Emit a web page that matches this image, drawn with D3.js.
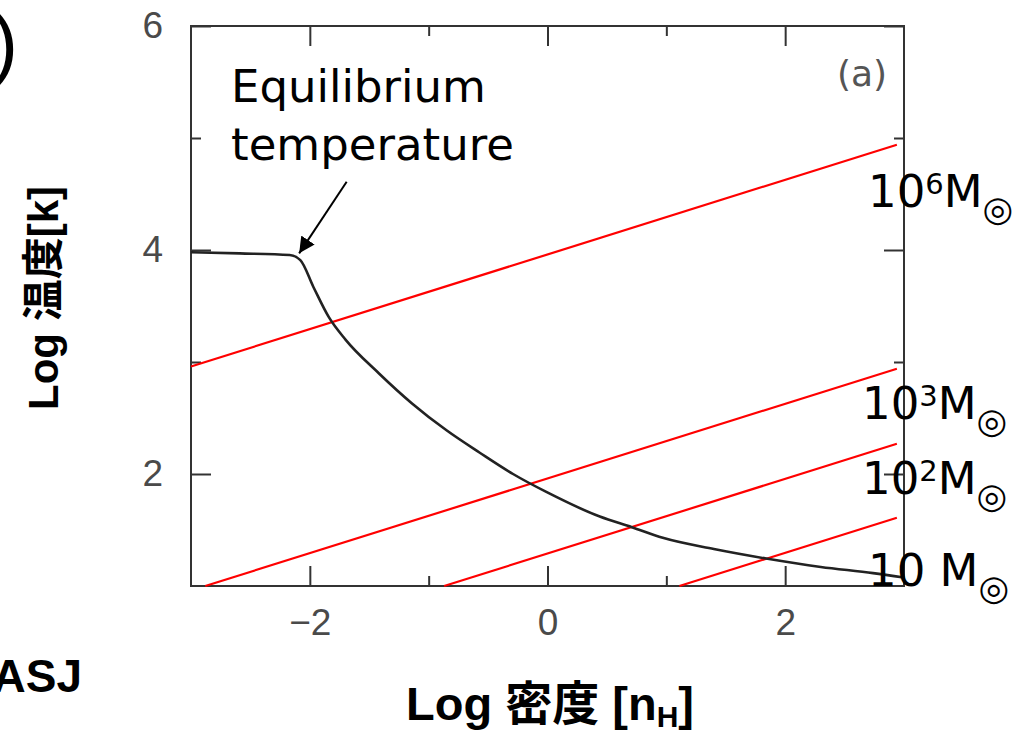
<!DOCTYPE html>
<html>
<head>
<meta charset="utf-8">
<script src="https://d3js.org/d3.v7.min.js"></script>
<style>
  body { margin: 0; background: #fff; }
  svg { display: block; overflow: visible; }
</style>
</head>
<body>
<div id="chart"></div>
<script>
  // equilibrium temperature curve (log n_H, log T)
  var eqDensity = [-3.0, -2.59, -2.17, -2.08, -1.97, -1.84, -1.70, -1.42, -1.14, -0.85, -0.57, -0.29, -0.01, 0.44, 0.71, 0.97, 1.40, 1.84, 2.30, 2.74, 3.0];
  var eqTemp    = [3.98, 3.97, 3.955, 3.91, 3.67, 3.40, 3.20, 2.90, 2.63, 2.39, 2.19, 2.00, 1.84, 1.62, 1.525, 1.43, 1.33, 1.245, 1.17, 1.115, 1.075];

  // Jeans mass lines (red), start and end points; label is 10^exp M
  var massExp    = ["6", "3", "2", ""];
  var massStartX = [-3.0, -2.88, -0.87, 1.11];
  var massStartY = [2.96, 1.0, 1.0, 1.0];
  var massEndX   = [2.94, 2.94, 2.94, 2.94];
  var massEndY   = [4.94, 2.94, 2.27, 1.61];

  // ticks
  var xMajor = [-2, 0, 2];
  var xMinor = [-1, 1];
  var yMajor = [2, 4, 6];
  var yMinor = [3, 5];

  var width = 1012, height = 730;
  var pLeft = 191, pRight = 904, pTop = 26, pBottom = 586;

  var svg = d3.select("#chart").append("svg")
    .attr("width", width)
    .attr("height", height);

  var x = d3.scaleLinear().domain([-3, 3]).range([pLeft, pRight]);
  var y = d3.scaleLinear().domain([1, 6]).range([pBottom, pTop]);

  var tickFont = "'Liberation Sans', Arial, sans-serif";
  var fmt = d3.format("d");

  function styleAxis(g) {
    g.select(".domain").remove();
    g.selectAll("line").attr("stroke", "#333").attr("stroke-width", 2);
    g.selectAll("text").attr("fill", "#4a4a4a").attr("font-size", 37)
      .attr("font-family", tickFont);
  }

  // bottom
  svg.append("g").attr("transform", "translate(0," + pBottom + ")")
    .call(d3.axisBottom(x).tickValues(xMajor).tickFormat(fmt).tickSizeInner(-20).tickSizeOuter(0).tickPadding(23))
    .call(styleAxis);
  svg.append("g").attr("transform", "translate(0," + pBottom + ")")
    .call(d3.axisBottom(x).tickValues(xMinor).tickFormat("").tickSizeInner(-10).tickSizeOuter(0))
    .call(styleAxis);
  // top
  svg.append("g").attr("transform", "translate(0," + pTop + ")")
    .call(d3.axisTop(x).tickValues(xMajor).tickFormat("").tickSizeInner(-20).tickSizeOuter(0))
    .call(styleAxis);
  svg.append("g").attr("transform", "translate(0," + pTop + ")")
    .call(d3.axisTop(x).tickValues(xMinor).tickFormat("").tickSizeInner(-10).tickSizeOuter(0))
    .call(styleAxis);
  // left
  svg.append("g").attr("transform", "translate(" + pLeft + ",0)")
    .call(d3.axisLeft(y).tickValues(yMajor).tickFormat(fmt).tickSizeInner(-20).tickSizeOuter(0).tickPadding(28))
    .call(styleAxis);
  svg.append("g").attr("transform", "translate(" + pLeft + ",0)")
    .call(d3.axisLeft(y).tickValues(yMinor).tickFormat("").tickSizeInner(-10).tickSizeOuter(0))
    .call(styleAxis);
  // right
  svg.append("g").attr("transform", "translate(" + pRight + ",0)")
    .call(d3.axisRight(y).tickValues(yMajor).tickFormat("").tickSizeInner(-20).tickSizeOuter(0))
    .call(styleAxis);
  svg.append("g").attr("transform", "translate(" + pRight + ",0)")
    .call(d3.axisRight(y).tickValues(yMinor).tickFormat("").tickSizeInner(-10).tickSizeOuter(0))
    .call(styleAxis);

  // frame
  svg.append("rect")
    .attr("x", pLeft).attr("y", pTop)
    .attr("width", pRight - pLeft).attr("height", pBottom - pTop)
    .attr("fill", "none").attr("stroke", "#333").attr("stroke-width", 2);

  // red Jeans mass lines
  var massData = massExp.map(function(e, i) {
    return { exp: e, pts: [[massStartX[i], massStartY[i]], [massEndX[i], massEndY[i]]] };
  });
  var line = d3.line().x(function(d) { return x(d[0]); }).y(function(d) { return y(d[1]); });
  svg.selectAll(".mass").data(massData).enter().append("path")
    .attr("class", "mass")
    .attr("d", function(d) { return line(d.pts); })
    .attr("fill", "none").attr("stroke", "#ff0000").attr("stroke-width", 2.2);

  // equilibrium curve
  var eq = eqDensity.map(function(v, i) { return [v, eqTemp[i]]; });
  svg.append("path")
    .datum(eq)
    .attr("d", d3.line().x(function(d) { return x(d[0]); }).y(function(d) { return y(d[1]); }).curve(d3.curveMonotoneX))
    .attr("fill", "none").attr("stroke", "#222").attr("stroke-width", 2.6);

  // arrow
  svg.append("defs").append("marker")
    .attr("id", "head").attr("viewBox", "0 0 10 10")
    .attr("refX", 10).attr("refY", 5)
    .attr("markerWidth", 16).attr("markerHeight", 16)
    .attr("markerUnits", "userSpaceOnUse")
    .attr("orient", "auto")
    .append("path").attr("d", "M0,0 L10,5 L0,10 Z").attr("fill", "#000");
  svg.append("line")
    .attr("x1", x(-1.69)).attr("y1", y(4.61))
    .attr("x2", x(-2.09)).attr("y2", y(3.97))
    .attr("stroke", "#000").attr("stroke-width", 2)
    .attr("marker-end", "url(#head)");

  // annotation text
  var annFont = "'DejaVu Sans', Verdana, sans-serif";
  svg.append("text").attr("x", 231).attr("y", 102)
    .attr("font-family", annFont).attr("font-size", 45).attr("fill", "#000")
    .text("Equilibrium");
  svg.append("text").attr("x", 231).attr("y", 160)
    .attr("font-family", annFont).attr("font-size", 45).attr("fill", "#000")
    .text("temperature");

  svg.append("text").attr("x", 862).attr("y", 86)
    .attr("text-anchor", "middle")
    .attr("font-family", annFont).attr("font-size", 36).attr("fill", "#555")
    .text("(a)");

  // mass labels
  var labelPos = [[868, 207], [862, 419], [862, 494], [868, 586]];
  massData.forEach(function(d, i) {
    var t = svg.append("text")
      .attr("x", labelPos[i][0]).attr("y", labelPos[i][1])
      .attr("font-family", annFont).attr("font-size", 45).attr("fill", "#000");
    if (d.exp === "") {
      t.append("tspan").text("10 M");
    } else {
      t.append("tspan").text("10");
      t.append("tspan").attr("dy", -13).attr("font-size", 29).text(d.exp);
      t.append("tspan").attr("dy", 13).text("M");
    }
    t.append("tspan").attr("dy", 14).attr("font-size", 35).text("◎");
  });

  // axis titles
  var boldFont = "'Liberation Sans', 'Noto Sans CJK JP', Arial, sans-serif";
  svg.append("text")
    .attr("transform", "translate(43,298) rotate(-90)")
    .attr("text-anchor", "middle").attr("dominant-baseline", "central")
    .attr("font-family", boldFont).attr("font-weight", "bold").attr("font-size", 42)
    .text("Log 温度[k]");

  var xt = svg.append("text")
    .attr("x", 550).attr("y", 720)
    .attr("text-anchor", "middle")
    .attr("font-family", boldFont).attr("font-weight", "bold").attr("font-size", 47);
  xt.append("tspan").text("Log 密度 [n");
  xt.append("tspan").attr("font-size", 30).attr("dy", 7).text("H");
  xt.append("tspan").attr("dy", -7).text("]");

  // cut-off fragments at the left edge
  svg.append("text").attr("x", 18).attr("y", 70)
    .attr("text-anchor", "end")
    .attr("font-family", tickFont).attr("font-size", 78)
    .text(")");
  svg.append("text").attr("x", 82).attr("y", 692)
    .attr("text-anchor", "end")
    .attr("font-family", boldFont).attr("font-weight", "bold").attr("font-size", 46)
    .text("ASJ");
</script>
</body>
</html>
